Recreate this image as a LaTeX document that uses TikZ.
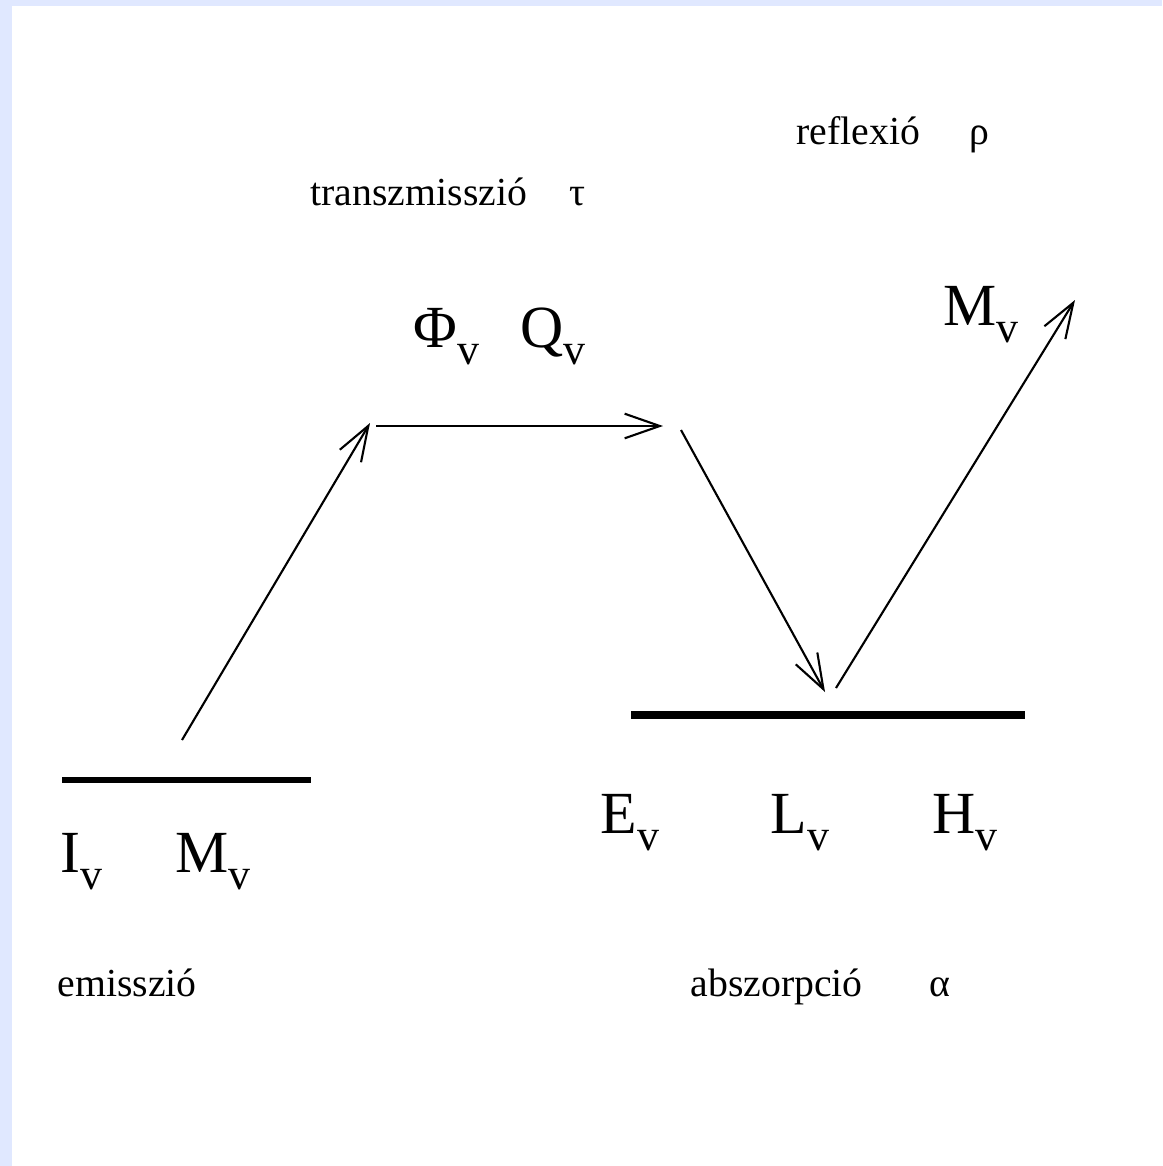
\documentclass[tikz,border=0pt]{standalone}
\usepackage{fontspec}
\setmainfont{Liberation Serif}
\usetikzlibrary{arrows.meta}
\definecolor{frameblue}{RGB}{224,232,255}
\newcommand{\vsb}{\raisebox{-5pt}{\fontsize{12.5}{12.5}\selectfont v}}

\begin{document}
\begin{tikzpicture}[
  x=0.01cm, y=-0.01cm,
  lbl/.style={anchor=base west, inner sep=0pt, font=\fontsize{11.3}{13}\selectfont},
  qty/.style={anchor=base west, inner sep=0pt, font=\fontsize{17}{20}\selectfont},
  ray/.style={-{Straight Barb[length=10pt, width=7pt]}, line width=0.6pt},
  surf/.style={line width=1.5pt}]
% frame
\fill[frameblue] (0,0) rectangle (1162,1166);
\fill[white] (12,6) rectangle (1162,1166);
\useasboundingbox (0,0) rectangle (1162,1166);
% surfaces
\coordinate (srcL) at (62,780);
\coordinate (srcR) at (311,780);
\coordinate (tgtL) at (631,715);
\coordinate (tgtR) at (1025,715);
\draw[surf] (srcL) -- (srcR);
\draw[surf, line width=2pt] (tgtL) -- (tgtR);
% rays
\coordinate (a0) at (182,740);
\coordinate (a1) at (370,423);
\coordinate (b0) at (376,426);
\coordinate (b1) at (663,426);
\coordinate (c0) at (681,430);
\coordinate (c1) at (825,692);
\coordinate (d0) at (836,688);
\coordinate (d1) at (1075,300);
\draw[ray] (a0) -- (a1);
\draw[ray] (b0) -- (b1);
\draw[ray] (c0) -- (c1);
\draw[ray] (d0) -- (d1);
% labels
\node[lbl] (trans) at (310,205) {transzmisszió\hspace{12pt}τ};
\node[lbl] (refl) at (796,144) {reflexió\hspace{14pt}ρ};
\node[lbl] (emis) at (57,996) {emisszió};
\node[lbl] (absz) at (690,996) {abszorpció\hspace{19pt}α};
\node[qty] (phi) at (413,347) {Φ\vsb};
\node[qty] (Q) at (520,347) {Q\vsb};
\node[qty] (Mrefl) at (943,325) {M\vsb};
\node[qty] (I) at (60,872) {I\vsb};
\node[qty] (Msrc) at (175,872) {M\vsb};
\node[qty] (E) at (600,833) {E\vsb};
\node[qty] (L) at (770,833) {L\vsb};
\node[qty] (H) at (932,833) {H\vsb};
\end{tikzpicture}
\end{document}
